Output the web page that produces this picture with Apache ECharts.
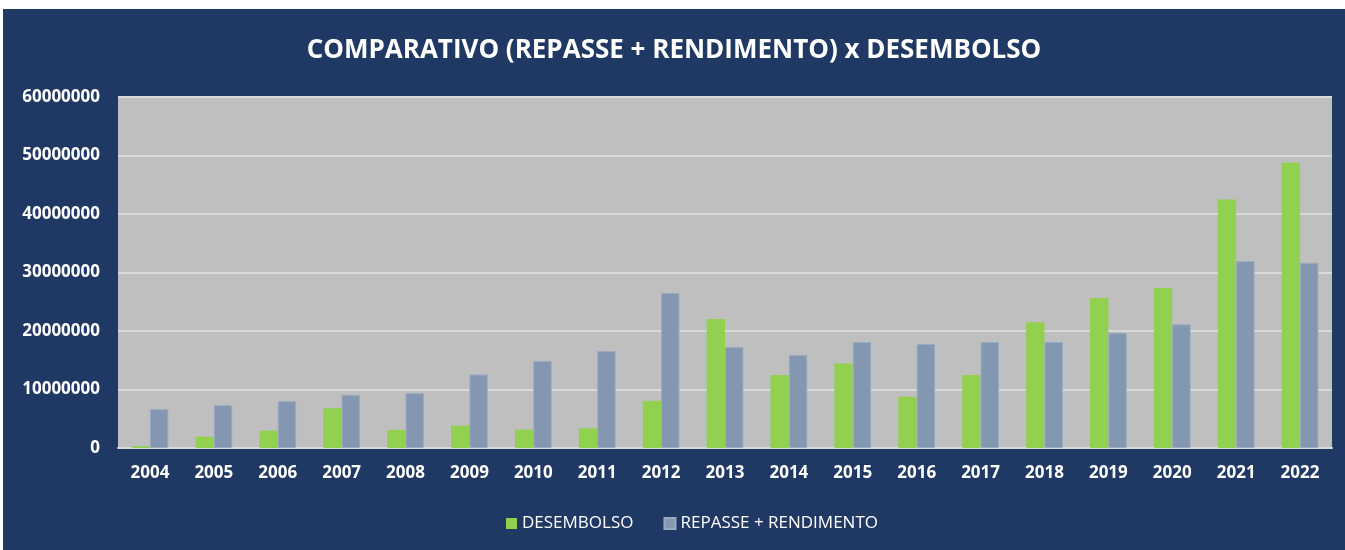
<!DOCTYPE html>
<html><head><meta charset="utf-8">
<script src="https://cdn.jsdelivr.net/npm/echarts@6/dist/echarts.min.js"></script>
<style>
html,body{margin:0;padding:0;background:#fff;}
#c{position:absolute;left:3px;top:9px;width:1342px;height:541px;}
</style></head>
<body><div id="c"></div>
<script>
const years = ['2004','2005','2006','2007','2008','2009','2010','2011','2012','2013','2014','2015','2016','2017','2018','2019','2020','2021','2022'];
const desembolso = [300000,1940000,2970000,6800000,3090000,3830000,3140000,3370000,8060000,22060000,12460000,14460000,8740000,12460000,21490000,25660000,27370000,42460000,48740000];
const repasse = [6630000,7310000,8000000,9090000,9370000,12570000,14860000,16570000,26500000,17260000,15890000,18110000,17770000,18110000,18110000,19710000,21140000,31940000,31660000];
const yTicks = [0,10000000,20000000,30000000,40000000,50000000,60000000];

const chart = echarts.init(document.getElementById('c'));
chart.setOption({
  backgroundColor:'#1F3864',
  animation:false,
  title:{text:'COMPARATIVO (REPASSE + RENDIMENTO) x DESEMBOLSO',left:'center',top:24,
    textStyle:{color:'#fff',fontSize:26,fontWeight:'bold',fontFamily:'Open Sans'}},
  legend:{bottom:13,left:498,itemWidth:11,itemHeight:11,itemGap:30,icon:'rect',
    textStyle:{color:'#fff',fontSize:17,fontFamily:'Open Sans'},
    data:['DESEMBOLSO','REPASSE + RENDIMENTO']},
  grid:{left:115,right:13,top:88,bottom:102,show:true,backgroundColor:'#BFBFBF',borderWidth:0},
  xAxis:{type:'category',data:years,
    axisLine:{show:true,lineStyle:{color:'#D9D9D9',width:2}},axisTick:{show:false},
    axisLabel:{color:'#fff',fontWeight:'bold',fontSize:17,fontFamily:'Open Sans',margin:17}},
  yAxis:{type:'value',min:0,max:60000000,interval:10000000,
    axisLine:{show:false},axisTick:{show:false},
    splitLine:{lineStyle:{color:'#D9D9D9',width:2}},
    axisLabel:{color:'#fff',fontWeight:'bold',fontSize:17,fontFamily:'Open Sans',margin:18,
      formatter:v=>String(yTicks.includes(v)?v:v)}},
  series:[
    {name:'DESEMBOLSO',type:'bar',data:desembolso,barGap:'0%',barCategoryGap:'42.5%',
     itemStyle:{color:'#92D050'}},
    {name:'REPASSE + RENDIMENTO',type:'bar',data:repasse,barGap:'0%',barCategoryGap:'42.5%',
     itemStyle:{color:'#8497B0',borderColor:'#9AAAC0',borderWidth:1}}
  ]
});
</script></body></html>
